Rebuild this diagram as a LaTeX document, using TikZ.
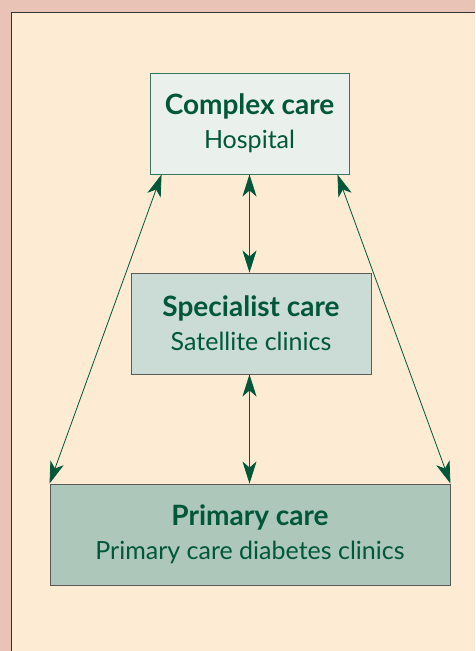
\documentclass[tikz,border=0pt]{standalone}
\usepackage{fontspec}
\setmainfont{Lato}
\usetikzlibrary{arrows.meta}
\definecolor{pinkbg}{HTML}{E8C3B6}
\definecolor{creambg}{HTML}{FDEBD3}
\definecolor{darkgreen}{HTML}{00573A}
\definecolor{topfill}{HTML}{EAF0EC}
\definecolor{midfill}{HTML}{CADCD5}
\definecolor{botfill}{HTML}{ADC7BB}
\newcommand{\levelname}[1]{{\fontsize{28}{34}\selectfont\bfseries #1}}
\begin{document}
\begin{tikzpicture}[x=1pt,y=-1pt]
    \tikzstyle{level}=[rectangle, draw=black!65, line width=0.9pt, minimum height=101pt, align=center,
      text=darkgreen, font=\fontsize{25}{34}\selectfont, inner sep=0pt]
    \tikzstyle{link}=[darkgreen, line width=0.8pt, {Stealth[length=22pt,width=14pt,inset=6pt]}-{Stealth[length=22pt,width=14pt,inset=6pt]}]
    \useasboundingbox (0,0) rectangle (475,651);
    \fill[pinkbg] (0,0) rectangle (475,651);
    \fill[creambg] (11,12) rectangle (475,651);
    \draw[black!80, line width=1pt] (11,651) -- (11,12) -- (475,12);
    \node[level, fill=topfill, draw=darkgreen!80, minimum width=199pt] (complex) at (249.5,123.5)
      {\levelname{Complex care}\\Hospital};
    \node[level, fill=midfill, minimum width=240pt] (special) at (251,323.5)
      {\levelname{Specialist care}\\Satellite clinics};
    \node[level, fill=botfill, minimum width=400pt] (primary) at (250,534.5)
      {\levelname{Primary care}\\Primary care diabetes clinics};
    \coordinate (cl) at ([xshift=12pt]complex.south west);
    \coordinate (cr) at ([xshift=-12pt]complex.south east);
    \draw[link] (complex.south) -- (special.north -| complex.south);
    \draw[link] (special.south -| complex.south) -- (primary.north -| complex.south);
    \draw[link] (cl) -- (primary.north west);
    \draw[link] (cr) -- (primary.north east);
\end{tikzpicture}
\end{document}
